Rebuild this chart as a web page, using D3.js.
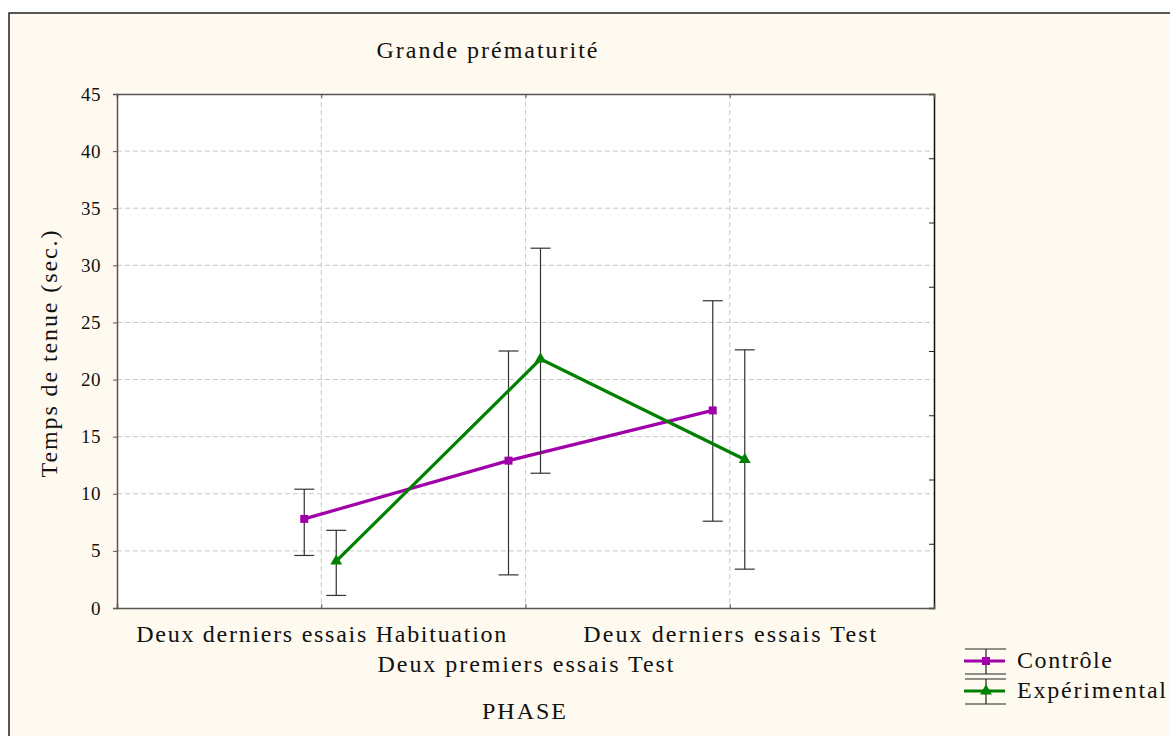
<!DOCTYPE html>
<html><head><meta charset="utf-8">
<script src="https://cdn.jsdelivr.net/npm/d3@7"></script>
<style>
html,body{margin:0;padding:0;background:#fff;}
svg{display:block;}
text{font-family:"Liberation Serif","DejaVu Serif",serif;fill:#111;}
</style></head><body>
<svg id="chart" width="1170" height="736"></svg>
<script>
const categories = ["Deux derniers essais Habituation","Deux premiers essais Test","Deux derniers essais Test"];
const seriesNames = ["Contrôle","Expérimental"];
const controleMean = [7.8, 12.9, 17.3];
const controleLow  = [4.6, 2.9, 7.6];
const controleHigh = [10.4, 22.5, 26.9];
const expMean = [4.1, 21.8, 13.0];
const expLow  = [1.1, 11.8, 3.4];
const expHigh = [6.8, 31.5, 22.6];
const yTicks = [0,5,10,15,20,25,30,35,40,45];

const svg = d3.select("#chart");
const W=1170,H=736;
const m={l:117,r:934,t:94,b:608};

svg.append("rect").attr("x",9).attr("y",13).attr("width",W+10).attr("height",H+10)
  .attr("fill","#fffaef").attr("stroke","#222").attr("stroke-width",1.5);
svg.append("rect").attr("x",m.l).attr("y",m.t).attr("width",m.r-m.l).attr("height",m.b-m.t).attr("fill","#fff");

const x = d3.scalePoint().domain(categories).range([m.l,m.r]).padding(1);
const y = d3.scaleLinear().domain([0,45]).range([m.b,m.t]);
const yRight = d3.scaleLinear().domain([0,8]).range([m.b,m.t]);

// gridlines
const g = svg.append("g");
g.selectAll("line.h").data(yTicks.filter(v=>v>0&&v<45)).join("line")
  .attr("x1",m.l).attr("x2",m.r).attr("y1",d=>y(d)).attr("y2",d=>y(d))
  .attr("stroke","#c8c8c8").attr("stroke-dasharray","5,3");
g.selectAll("line.v").data(categories).join("line")
  .attr("y1",m.t).attr("y2",m.b).attr("x1",d=>x(d)).attr("x2",d=>x(d))
  .attr("stroke","#c8c8c8").attr("stroke-dasharray","5,3");

// axes
const yAxis = svg.append("g").attr("transform",`translate(${m.l},0)`)
  .call(d3.axisLeft(y).tickValues(yTicks).tickSize(4).tickPadding(12));
yAxis.select(".domain").attr("stroke","#555").attr("stroke-width",1.5);
yAxis.selectAll(".tick line").attr("stroke","#555");
yAxis.selectAll("text").attr("font-size",19).attr("fill","#222").attr("letter-spacing","0.5px")
  .style("font-family",'"Liberation Serif",serif');

const rAxis = svg.append("g").attr("transform",`translate(${m.r},0)`)
  .call(d3.axisLeft(yRight).ticks(8).tickSize(5).tickFormat(""));
rAxis.select(".domain").attr("stroke","#111").attr("stroke-width",1.5);
rAxis.selectAll(".tick line").attr("stroke","#222");

const bAxis = svg.append("g").attr("transform",`translate(0,${m.b})`)
  .call(d3.axisTop(x).tickSize(4).tickFormat(""));
bAxis.select(".domain").attr("stroke","#555").attr("stroke-width",1.5);
bAxis.selectAll(".tick line").attr("stroke","#555");
const tAxis = svg.append("g").attr("transform",`translate(0,${m.t})`)
  .call(d3.axisBottom(x).tickSize(4).tickFormat(""));
tAxis.select(".domain").attr("stroke","#555").attr("stroke-width",1.5);
tAxis.selectAll(".tick line").attr("stroke","#555");

// category labels (staggered)
const labelRows = [642, 672, 642];
const labelWidths = [370, 296, 293];
svg.append("g").selectAll("text").data(categories).join("text")
  .attr("x",(d)=>x(d)).attr("y",(d,i)=>labelRows[i])
  .attr("text-anchor","middle").attr("font-size",24)
  .attr("textLength",(d,i)=>labelWidths[i]).attr("lengthAdjust","spacing")
  .text(d=>d);

svg.append("text").attr("x",524).attr("y",719).attr("text-anchor","middle").attr("font-size",24)
  .attr("textLength",84).attr("lengthAdjust","spacing").text("PHASE");
svg.append("text").attr("x",487).attr("y",58).attr("text-anchor","middle").attr("font-size",24)
  .attr("textLength",221).attr("lengthAdjust","spacing").text("Grande prématurité");
svg.append("text").attr("transform","translate(57,354) rotate(-90)").attr("text-anchor","middle")
  .attr("font-size",24).attr("textLength",247).attr("lengthAdjust","spacing").text("Temps de tenue (sec.)");

// series
const series = [
  {name:seriesNames[0], mean:controleMean, low:controleLow, high:controleHigh, color:"#a000a8", off:-17, shape:d3.symbolSquare},
  {name:seriesNames[1], mean:expMean, low:expLow, high:expHigh, color:"#008000", off:15, shape:d3.symbolTriangle}
];
series.forEach(s=>{
  const pts = categories.map((c,i)=>({x:x(c)+s.off, m:s.mean[i], lo:s.low[i], hi:s.high[i]}));
  const eg = svg.append("g");
  eg.selectAll("line.v").data(pts).join("line")
    .attr("x1",d=>d.x).attr("x2",d=>d.x).attr("y1",d=>y(d.lo)).attr("y2",d=>y(d.hi))
    .attr("stroke","#333").attr("stroke-width",1.2);
  eg.selectAll("line.t").data(pts).join("line")
    .attr("x1",d=>d.x-10).attr("x2",d=>d.x+10).attr("y1",d=>y(d.hi)).attr("y2",d=>y(d.hi))
    .attr("stroke","#333").attr("stroke-width",1.2);
  eg.selectAll("line.b").data(pts).join("line")
    .attr("x1",d=>d.x-10).attr("x2",d=>d.x+10).attr("y1",d=>y(d.lo)).attr("y2",d=>y(d.lo))
    .attr("stroke","#333").attr("stroke-width",1.2);
  svg.append("path").datum(pts)
    .attr("d",d3.line().x(d=>d.x).y(d=>y(d.m)))
    .attr("fill","none").attr("stroke",s.color).attr("stroke-width",3.2);
  svg.append("g").selectAll("path").data(pts).join("path")
    .attr("transform",d=>`translate(${d.x},${y(d.m)})`)
    .attr("d",d3.symbol().type(s.shape).size(s.shape===d3.symbolSquare?64:60))
    .attr("fill",s.color);
});

// legend
const legY = [661, 691];
const lg = svg.append("g");
series.forEach((s,i)=>{
  const cy = legY[i];
  const cx = 986;
  lg.append("line").attr("x1",cx).attr("x2",cx).attr("y1",cy-12).attr("y2",cy+13).attr("stroke","#222").attr("stroke-width",1.2);
  lg.append("line").attr("x1",cx-21).attr("x2",cx+20).attr("y1",cy-12).attr("y2",cy-12).attr("stroke","#222").attr("stroke-width",1.2);
  lg.append("line").attr("x1",cx-21).attr("x2",cx+20).attr("y1",cy+13).attr("y2",cy+13).attr("stroke","#222").attr("stroke-width",1.2);
  lg.append("line").attr("x1",cx-22).attr("x2",cx+19).attr("y1",cy).attr("y2",cy).attr("stroke",s.color).attr("stroke-width",3.2);
  lg.append("path").attr("transform",`translate(${cx},${cy})`)
    .attr("d",d3.symbol().type(s.shape).size(s.shape===d3.symbolSquare?64:60)).attr("fill",s.color);
  lg.append("text").attr("x",1017).attr("y",cy+7).attr("font-size",24)
    .attr("textLength",i===0?95:149).attr("lengthAdjust","spacing").text(s.name);
});
</script>
</body></html>
